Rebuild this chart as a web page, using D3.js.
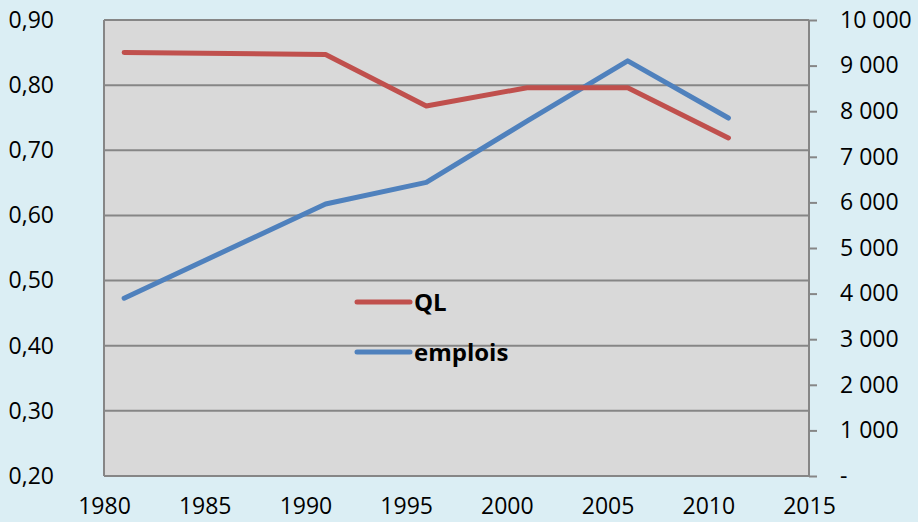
<!DOCTYPE html>
<html>
<head>
<meta charset="utf-8">
<script src="https://cdn.jsdelivr.net/npm/d3@7"></script>
<style>
  html, body { margin: 0; padding: 0; background: #dbeef4; }
  svg { display: block; }
  text { font-family: "Open Sans", "Liberation Sans", sans-serif; fill: #000; }
</style>
</head>
<body>
<script>
'use strict';

// years and values
const years = [1981, 1991, 1996, 2001, 2006, 2011];
const qlValues = [0.850, 0.847, 0.768, 0.796, 0.796, 0.719];
const emploisValues = [3900, 5965, 6440, 7780, 9105, 7850];

const xTicks = [1980, 1985, 1990, 1995, 2000, 2005, 2010, 2015];
const leftTicks = [0.2, 0.3, 0.4, 0.5, 0.6, 0.7, 0.8, 0.9];
const rightTicks = [0, 1000, 2000, 3000, 4000, 5000, 6000, 7000, 8000, 9000, 10000];

const seriesNames = ["QL", "emplois"];
const seriesColors = ["#c0504d", "#4f81bd"];

(function () {
  const width = 918, height = 522;
  const plot = { left: 104, right: 809, top: 20, bottom: 476 };
  const fontSize = '23px';

  const svg = d3.select('body')
    .append('svg')
    .attr('width', width)
    .attr('height', height);

  // scales
  const xScale = d3.scaleLinear().domain([1980, 2015]).range([plot.left, plot.right]);
  const yLeft = d3.scaleLinear().domain([0.2, 0.9]).range([plot.bottom, plot.top]);
  const yRight = d3.scaleLinear().domain([0, 10000]).range([plot.bottom, plot.top]);

  // plot background
  svg.append('rect')
    .attr('x', plot.left)
    .attr('y', plot.top)
    .attr('width', plot.right - plot.left)
    .attr('height', plot.bottom - plot.top)
    .attr('fill', '#d9d9d9');

  // gridlines
  svg.append('g')
    .selectAll('line')
    .data(leftTicks)
    .enter()
    .append('line')
    .attr('x1', plot.left)
    .attr('x2', plot.right)
    .attr('y1', (d) => yLeft(d))
    .attr('y2', (d) => yLeft(d))
    .attr('stroke', '#868686')
    .attr('stroke-width', 2);

  // left axis (labels only, plus axis line)
  const fmtLeft = (d) => d3.format('.2f')(d).replace('.', ',');
  const leftAxis = d3.axisLeft(yLeft).tickValues(leftTicks).tickFormat(fmtLeft).tickSize(0).tickPadding(50);
  const gLeft = svg.append('g')
    .attr('transform', `translate(${plot.left}, 0)`)
    .call(leftAxis);
  gLeft.select('.domain').remove();
  gLeft.selectAll('text').style('font-size', fontSize);

  svg.append('line')
    .attr('x1', plot.left).attr('x2', plot.left)
    .attr('y1', plot.top).attr('y2', plot.bottom)
    .attr('stroke', '#868686').attr('stroke-width', 2);

  // right axis
  const fmtRight = (d) => d === 0 ? '-' : d3.format(',')(d).replace(/,/g, '\u00a0');
  const rightAxis = d3.axisRight(yRight).tickValues(rightTicks).tickFormat(fmtRight).tickSize(8).tickPadding(23);
  const gRight = svg.append('g')
    .attr('transform', `translate(${plot.right}, 0)`)
    .call(rightAxis);
  gRight.select('.domain').attr('stroke', '#868686').attr('stroke-width', 2).attr('d', `M0,${plot.top}V${plot.bottom}`);
  gRight.selectAll('.tick line').attr('stroke', '#868686').attr('stroke-width', 2);
  gRight.selectAll('text').style('font-size', fontSize);

  // bottom axis
  svg.append('line')
    .attr('x1', plot.left).attr('x2', plot.right)
    .attr('y1', plot.bottom).attr('y2', plot.bottom)
    .attr('stroke', '#868686').attr('stroke-width', 2);

  const xAxis = d3.axisBottom(xScale).tickValues(xTicks).tickFormat(d3.format('d')).tickSize(0).tickPadding(22);
  const gX = svg.append('g')
    .attr('transform', `translate(0, ${plot.bottom})`)
    .call(xAxis);
  gX.select('.domain').remove();
  gX.selectAll('text').style('font-size', fontSize);

  // lines
  const qlLine = d3.line()
    .x((d, i) => xScale(years[i]))
    .y((d) => yLeft(d));
  const emLine = d3.line()
    .x((d, i) => xScale(years[i]))
    .y((d) => yRight(d));

  svg.append('path')
    .datum(emploisValues)
    .attr('d', emLine)
    .attr('fill', 'none')
    .attr('stroke', seriesColors[1])
    .attr('stroke-width', 5)
    .attr('stroke-linecap', 'round')
    .attr('stroke-linejoin', 'round');

  svg.append('path')
    .datum(qlValues)
    .attr('d', qlLine)
    .attr('fill', 'none')
    .attr('stroke', seriesColors[0])
    .attr('stroke-width', 5)
    .attr('stroke-linecap', 'round')
    .attr('stroke-linejoin', 'round');

  // legend
  const legend = svg.append('g').attr('transform', 'translate(355, 302)');
  const items = legend.selectAll('g')
    .data(seriesNames)
    .enter()
    .append('g')
    .attr('transform', (d, i) => `translate(0, ${i * 50})`);
  items.append('line')
    .attr('x1', 2).attr('x2', 55)
    .attr('y1', 0).attr('y2', 0)
    .attr('stroke', (d, i) => seriesColors[i])
    .attr('stroke-width', 5)
    .attr('stroke-linecap', 'round');
  items.append('text')
    .attr('x', 59)
    .attr('y', 9)
    .style('font-size', '24px')
    .style('font-weight', 'bold')
    .text((d) => d);
})();
</script>
</body>
</html>
